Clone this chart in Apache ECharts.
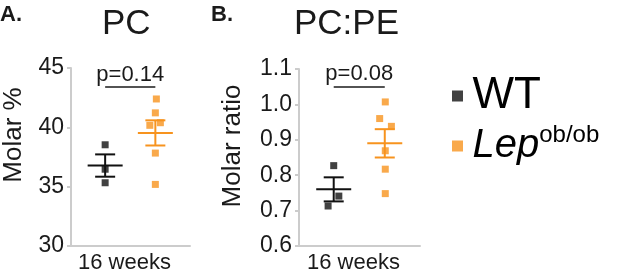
<!DOCTYPE html>
<html><head><meta charset="utf-8">
<script src="https://cdn.jsdelivr.net/npm/echarts@6/dist/echarts.min.js"></script>
<style>html,body{margin:0;padding:0;background:#fff}#c{width:617px;height:279px}</style>
</head><body><div id="c"></div>
<script>
// ---- data ----
const groups = ['WT', 'Lep'];
const xCategory = '16 weeks';
// Panel A: PC (Molar %)
const wtA = [38.53, 36.47, 35.33];
const wtJitA = [0, 0, 0];
const lepA = [42.39, 41.22, 40.17, 40.39, 37.83, 35.19];
const lepJitA = [0.02, 0, -0.11, 0.1, 0, 0];
const meanA = [36.78, 39.53];
const semA = [0.94, 1.06];
const pA = 'p=0.14';
const pBarA = 43.44;
const ticksA = [30, 35, 40, 45];
// Panel B: PC:PE (Molar ratio)
const wtB = [0.827, 0.741, 0.713];
const wtJitB = [0, 0.1, -0.11];
const lepB = [1.007, 0.960, 0.938, 0.869, 0.817, 0.748];
const lepJitB = [0.01, -0.1, 0.13, 0.01, 0.01, 0.01];
const meanB = [0.760, 0.890];
const semB = [0.034, 0.040];
const pB = 'p=0.08';
const pBarB = 1.051;
const ticksB = [0.6, 0.7, 0.8, 0.9, 1.0, 1.1];

const BLACK = '#111111';
const ORANGE = '#F7931E';
const TXT = '#1a1a1a';
const AXIS = '#cccccc';
const FONT = '"Liberation Sans", Arial, sans-serif';

const chart = echarts.init(document.getElementById('c'));

function errRender(params, api) {
  const x = api.value(0), m = api.value(1), s = api.value(2);
  const c = api.coord([x, m]), t = api.coord([x, m + s]), b = api.coord([x, m - s]);
  const color = params.dataIndex === 0 ? BLACK : ORANGE;
  const st = { stroke: color, lineWidth: 2 };
  return { type: 'group', children: [
    { type: 'line', shape: { x1: c[0] - 17.5, y1: c[1], x2: c[0] + 17.5, y2: c[1] }, style: st },
    { type: 'line', shape: { x1: t[0] - 10, y1: t[1], x2: t[0] + 10, y2: t[1] }, style: st },
    { type: 'line', shape: { x1: b[0] - 10, y1: b[1], x2: b[0] + 10, y2: b[1] }, style: st },
    { type: 'line', shape: { x1: t[0], y1: t[1], x2: b[0], y2: b[1] }, style: st }
  ]};
}

function yAxis(gi, ticks, name, gap, shift, dec) {
  return {
    type: 'value', gridIndex: gi, min: ticks[0], max: ticks[ticks.length - 1],
    interval: +(ticks[1] - ticks[0]).toFixed(4),
    axisLine: { show: true, onZero: false, lineStyle: { color: AXIS, width: 2 } },
    axisTick: { show: true, length: 4, lineStyle: { color: AXIS, width: 2 } },
    splitLine: { show: false },
    axisLabel: { margin: 7, fontSize: 23, color: TXT, fontFamily: FONT,
      formatter: v => dec ? v.toFixed(1) : String(v) },
    name: name, nameLocation: 'middle', nameGap: gap, nameRotate: 90,
    nameTextStyle: { fontSize: 26, color: TXT, fontFamily: FONT, lineHeight: 26, padding: [0, 0, 0, shift] }
  };
}
function xAxis(gi) {
  return {
    type: 'value', gridIndex: gi, min: -0.68, max: 1.69,
    axisLine: { show: true, onZero: false, lineStyle: { color: AXIS, width: 2 } },
    axisTick: { show: false }, axisLabel: { show: false }, splitLine: { show: false },
    name: xCategory, nameLocation: 'middle', nameGap: 6,
    nameTextStyle: { fontSize: 22, color: TXT, fontFamily: FONT, lineHeight: 22, padding: [0, 12, 0, 0] }
  };
}
function pLine(txt, y) {
  return {
    symbol: 'none', silent: true, animation: false,
    lineStyle: { color: TXT, width: 1.5, type: 'solid' },
    label: { show: true, position: 'middle', formatter: txt, fontSize: 22, color: TXT, fontFamily: FONT, distance: 1 },
    data: [[{ coord: [0, y] }, { coord: [1, y] }]]
  };
}
function pts(vals, jit, gi) { return vals.map((v, i) => [gi + jit[i], v]); }

const option = {
  animation: false,
  textStyle: { fontFamily: FONT },
  title: [
    { text: 'A.', left: 0, top: 4, padding: 0, textStyle: { fontSize: 22, fontWeight: 'bold', color: TXT, fontFamily: FONT } },
    { text: 'PC', left: 102, top: 7, padding: 0, textStyle: { fontSize: 35, fontWeight: 'normal', color: TXT, fontFamily: FONT } },
    { text: 'B.', left: 211, top: 4, padding: 0, textStyle: { fontSize: 22, fontWeight: 'bold', color: TXT, fontFamily: FONT } },
    { text: 'PC:PE', left: 294, top: 7, padding: 0, textStyle: { fontSize: 35, fontWeight: 'normal', color: TXT, fontFamily: FONT } }
  ],
  legend: {
    data: groups, orient: 'vertical', left: 452, top: 74, padding: 0,
    itemWidth: 20, itemHeight: 11, itemGap: 5,
    icon: 'path://M0,0h10v10h-10z',
    formatter: n => n === 'Lep' ? '{i|Lep}{s|ob/ob}' : '{n|WT}',
    textStyle: { color: '#000', fontFamily: FONT,
      rich: {
        n: { fontSize: 44, lineHeight: 46, color: '#000', fontFamily: FONT },
        i: { fontSize: 40, lineHeight: 46, fontStyle: 'italic', color: '#000', fontFamily: FONT },
        s: { fontSize: 24, lineHeight: 46, verticalAlign: 'top', color: '#000', fontFamily: FONT }
      } }
  },
  grid: [
    { left: 68, top: 68, width: 122, height: 180 },
    { left: 299, top: 69, width: 121, height: 180 }
  ],
  xAxis: [xAxis(0), xAxis(1)],
  yAxis: [yAxis(0, ticksA, 'Molar %', 44, 44, false), yAxis(1, ticksB, 'Molar ratio', 53, 23, true)],
  series: [
    { name: 'WT', type: 'scatter', xAxisIndex: 0, yAxisIndex: 0, symbol: 'rect', symbolSize: 7,
      itemStyle: { color: BLACK }, data: pts(wtA, wtJitA, 0) },
    { name: 'Lep', type: 'scatter', xAxisIndex: 0, yAxisIndex: 0, symbol: 'rect', symbolSize: 7,
      itemStyle: { color: ORANGE }, data: pts(lepA, lepJitA, 1) },
    { name: 'meanA', type: 'custom', xAxisIndex: 0, yAxisIndex: 0, renderItem: errRender,
      data: meanA.map((m, i) => [i, m, semA[i]]), markLine: pLine(pA, pBarA), z: 3 },
    { name: 'WT', type: 'scatter', xAxisIndex: 1, yAxisIndex: 1, symbol: 'rect', symbolSize: 7,
      itemStyle: { color: BLACK }, data: pts(wtB, wtJitB, 0) },
    { name: 'Lep', type: 'scatter', xAxisIndex: 1, yAxisIndex: 1, symbol: 'rect', symbolSize: 7,
      itemStyle: { color: ORANGE }, data: pts(lepB, lepJitB, 1) },
    { name: 'meanB', type: 'custom', xAxisIndex: 1, yAxisIndex: 1, renderItem: errRender,
      data: meanB.map((m, i) => [i, m, semB[i]]), markLine: pLine(pB, pBarB), z: 3 }
  ]
};
chart.setOption(option);
</script></body></html>
